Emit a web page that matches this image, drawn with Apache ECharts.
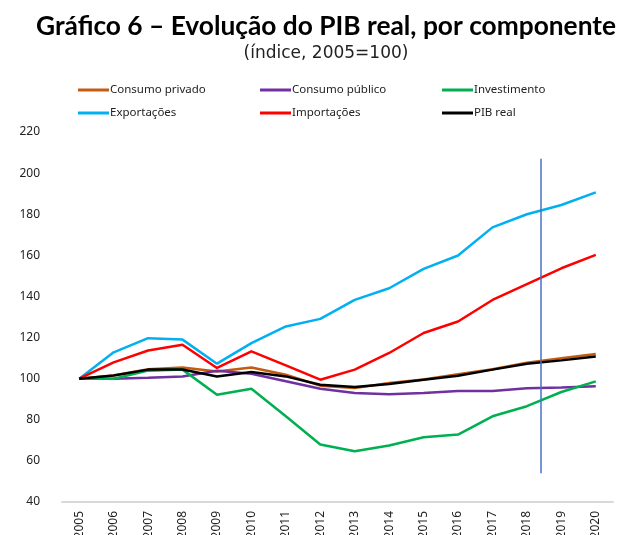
<!DOCTYPE html>
<html>
<head>
<meta charset="utf-8">
<script src="https://cdn.jsdelivr.net/npm/echarts@6/dist/echarts.min.js"></script>
<style>
  html, body { margin: 0; padding: 0; background: #fff; }
  #chart { width: 620px; height: 535px; }
</style>
</head>
<body>
<div id="chart"></div>
<script>
const years = ['2005', '2006', '2007', '2008', '2009', '2010', '2011', '2012',
  '2013', '2014', '2015', '2016', '2017', '2018', '2019', '2020'];

const consumoPrivado = [100, 101.6, 104.6, 105.4, 103.5, 105.4, 101.9, 96.6, 95.4, 97.9, 99.6, 102.1, 104.6, 107.8, 109.9, 112.0];
const consumoPublico = [100, 100.0, 100.5, 101.1, 103.9, 102.4, 98.7, 95.1, 93.0, 92.4, 93.0, 94.0, 94.0, 95.3, 95.7, 96.3];
const investimento = [100, 100.0, 103.9, 104.4, 92.2, 95.1, 81.7, 68.0, 64.7, 67.5, 71.5, 72.8, 81.7, 86.6, 93.5, 98.7];
const exportacoes = [100, 112.8, 119.7, 119.0, 107.3, 117.3, 125.4, 129.1, 138.3, 144.0, 153.4, 159.9, 173.6, 180.0, 184.5, 190.6];
const importacoes = [100, 107.9, 113.7, 116.5, 105.2, 113.3, 106.5, 99.5, 104.4, 112.5, 122.2, 127.8, 138.3, 146.0, 153.7, 160.2];
const pibReal = [100, 101.5, 104.4, 104.5, 101.1, 103.2, 101.1, 97.0, 96.0, 97.4, 99.5, 101.4, 104.4, 107.3, 108.9, 110.8];

// vertical separator between observed and projected years (category position, value range)
const separatorPos = 13.4;
const separatorRange = [54, 207];

const yTicks = { min: 40, max: 220, interval: 20 };

const chart = echarts.init(document.getElementById('chart'));
const labelFont = 'Noto Sans';

const makeLine = (name, data, color) => ({
  name: name,
  type: 'line',
  data: data,
  showSymbol: false,
  symbol: 'none',
  lineStyle: { color: color, width: 2.5 },
  itemStyle: { color: color }
});

const legendBase = {
  orient: 'vertical',
  top: 84,
  padding: 0,
  itemWidth: 31,
  itemHeight: 3,
  itemGap: 11,
  icon: 'rect',
  textStyle: { fontFamily: labelFont, fontSize: 11.5, color: '#222', padding: [0, 0, 0, -4] }
};

const option = {
  animation: false,
  backgroundColor: '#fff',
  title: [
    {
      text: 'Gráfico 6 – Evolução do PIB real, por componente',
      left: 326,
      textAlign: 'center',
      top: 14,
      padding: 0,
      textStyle: { fontFamily: 'Lato', fontWeight: 'bold', fontSize: 26.3, color: '#000' }
    },
    {
      text: '(índice, 2005=100)',
      left: 326,
      textAlign: 'center',
      top: 45,
      padding: 0,
      textStyle: { fontFamily: 'DejaVu Sans', fontWeight: 'normal', fontSize: 17, color: '#222' }
    }
  ],
  legend: [
    Object.assign({}, legendBase, { left: 78, data: ['Consumo privado', 'Exportações'] }),
    Object.assign({}, legendBase, { left: 260, data: ['Consumo público', 'Importações'] }),
    Object.assign({}, legendBase, { left: 442, data: ['Investimento', 'PIB real'] })
  ],
  grid: { left: 62, right: 7, top: 132, bottom: 33, containLabel: false, outerBoundsMode: 'none' },
  xAxis: [
    {
      type: 'category',
      data: years,
      boundaryGap: true,
      axisLine: { lineStyle: { color: '#D9D9D9', width: 2 } },
      axisTick: { show: false },
      axisLabel: { rotate: 90, color: '#222', fontFamily: labelFont, fontSize: 12, margin: 9 }
    },
    {
      type: 'value',
      min: -0.5,
      max: years.length - 0.5,
      show: false
    }
  ],
  yAxis: {
    type: 'value',
    min: yTicks.min,
    max: yTicks.max,
    interval: yTicks.interval,
    axisLine: { show: false },
    axisTick: { show: false },
    splitLine: { show: false },
    axisLabel: { color: '#222', fontFamily: labelFont, fontSize: 12, margin: 22 }
  },
  series: [
    makeLine('Consumo privado', consumoPrivado, '#C55A11'),
    makeLine('Consumo público', consumoPublico, '#7030A0'),
    makeLine('Investimento', investimento, '#00B050'),
    makeLine('Exportações', exportacoes, '#00B0F0'),
    makeLine('Importações', importacoes, '#FF0000'),
    makeLine('PIB real', pibReal, '#000000'),
    {
      name: 'separador',
      type: 'line',
      xAxisIndex: 1,
      data: [],
      markLine: {
        silent: true,
        symbol: 'none',
        label: { show: false },
        lineStyle: { color: '#4472C4', width: 1.5, type: 'solid' },
        data: [[
          { coord: [separatorPos, separatorRange[1]] },
          { coord: [separatorPos, separatorRange[0]] }
        ]]
      }
    }
  ]
};

chart.setOption(option);
</script>
</body>
</html>
